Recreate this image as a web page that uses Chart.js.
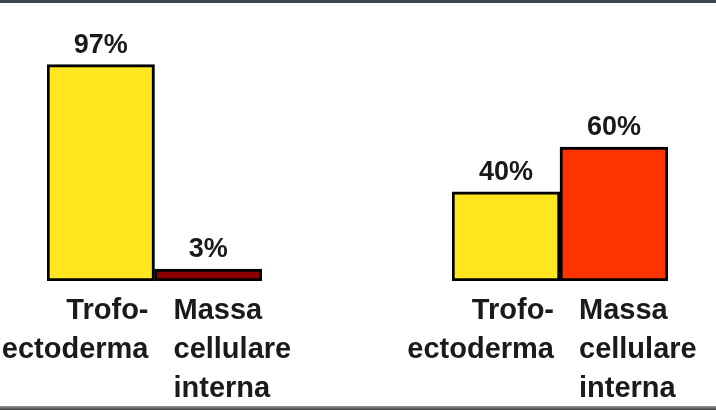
<!DOCTYPE html>
<html>
<head>
<meta charset="utf-8">
<script src="https://cdn.jsdelivr.net/npm/chart.js@4"></script>
<style>
  html, body { margin: 0; padding: 0; background: #fff; }
  #wrap { position: relative; width: 716px; height: 410px; overflow: hidden; background: #fff; }
  #wrap canvas { position: absolute; left: 0; top: 0; }
  .rule { position: absolute; left: 0; width: 716px; }
  #ruleTop { top: 0; height: 3px; background: #3b4650; }
  #ruleBottom { top: 406px; height: 4px; background: linear-gradient(#9a9a9a, #3c3c3c); }
</style>
</head>
<body>
<div id="wrap">
  <canvas id="leftChart" width="716" height="410"></canvas>
  <canvas id="rightChart" width="716" height="410"></canvas>
  <div class="rule" id="ruleTop"></div>
  <div class="rule" id="ruleBottom"></div>
</div>
<script>
// Data
const categories = [['Trofo-', 'ectoderma'], ['Massa', 'cellulare', 'interna']];
const leftValues = [97, 3];
const rightValues = [40, 60];
const leftColors = ['#ffe61e', '#8c0000'];
const rightColors = ['#ffe61e', '#ff3300'];

const FONT = 'bold 29px "Liberation Sans", Arial, sans-serif';
const VALUE_FONT = 'bold 27px "Liberation Sans", Arial, sans-serif';
const TEXT = '#1a1a1a';

// draws the % value above each bar and the category labels below
// (first label right aligned to its bar, second left aligned)
const labelPlugin = {
  id: 'barLabels',
  afterDatasetsDraw(chart) {
    const ctx = chart.ctx;
    const meta = chart.getDatasetMeta(0);
    const values = chart.data.datasets[0].data;
    const base = chart.chartArea.bottom;
    ctx.save();
    ctx.fillStyle = TEXT;
    ctx.textBaseline = 'alphabetic';
    meta.data.forEach((bar, i) => {
      const half = bar.width / 2;
      ctx.font = VALUE_FONT;
      ctx.textAlign = 'center';
      ctx.fillText(values[i] + '%', bar.x, bar.y - 12);
      ctx.font = FONT;
      const lines = chart.data.labels[i];
      let x;
      if (i === 0) {
        ctx.textAlign = 'right';
        x = bar.x + half - 6;
      } else {
        ctx.textAlign = 'left';
        x = bar.x - half + 19;
      }
      lines.forEach((line, k) => {
        ctx.fillText(line, x, base + 38 + k * 39);
      });
    });
    ctx.restore();
  }
};

function makeChart(id, values, colors, padLeft, padRight) {
  return new Chart(document.getElementById(id), {
    type: 'bar',
    data: {
      labels: categories,
      datasets: [{
        data: values,
        backgroundColor: colors,
        borderColor: '#000',
        borderWidth: 3,
        borderSkipped: false,
        minBarLength: 12,
        barPercentage: 1,
        categoryPercentage: 1
      }]
    },
    options: {
      responsive: false,
      animation: false,
      events: [],
      layout: { padding: { left: padLeft, right: padRight, top: 58, bottom: 129 } },
      plugins: { legend: { display: false }, tooltip: { enabled: false } },
      scales: {
        x: { display: false },
        y: { display: false, min: 0, max: 100 }
      }
    },
    plugins: [labelPlugin]
  });
}

makeChart('leftChart', leftValues, leftColors, 47, 454);
makeChart('rightChart', rightValues, rightColors, 452, 48);
</script>
</body>
</html>
